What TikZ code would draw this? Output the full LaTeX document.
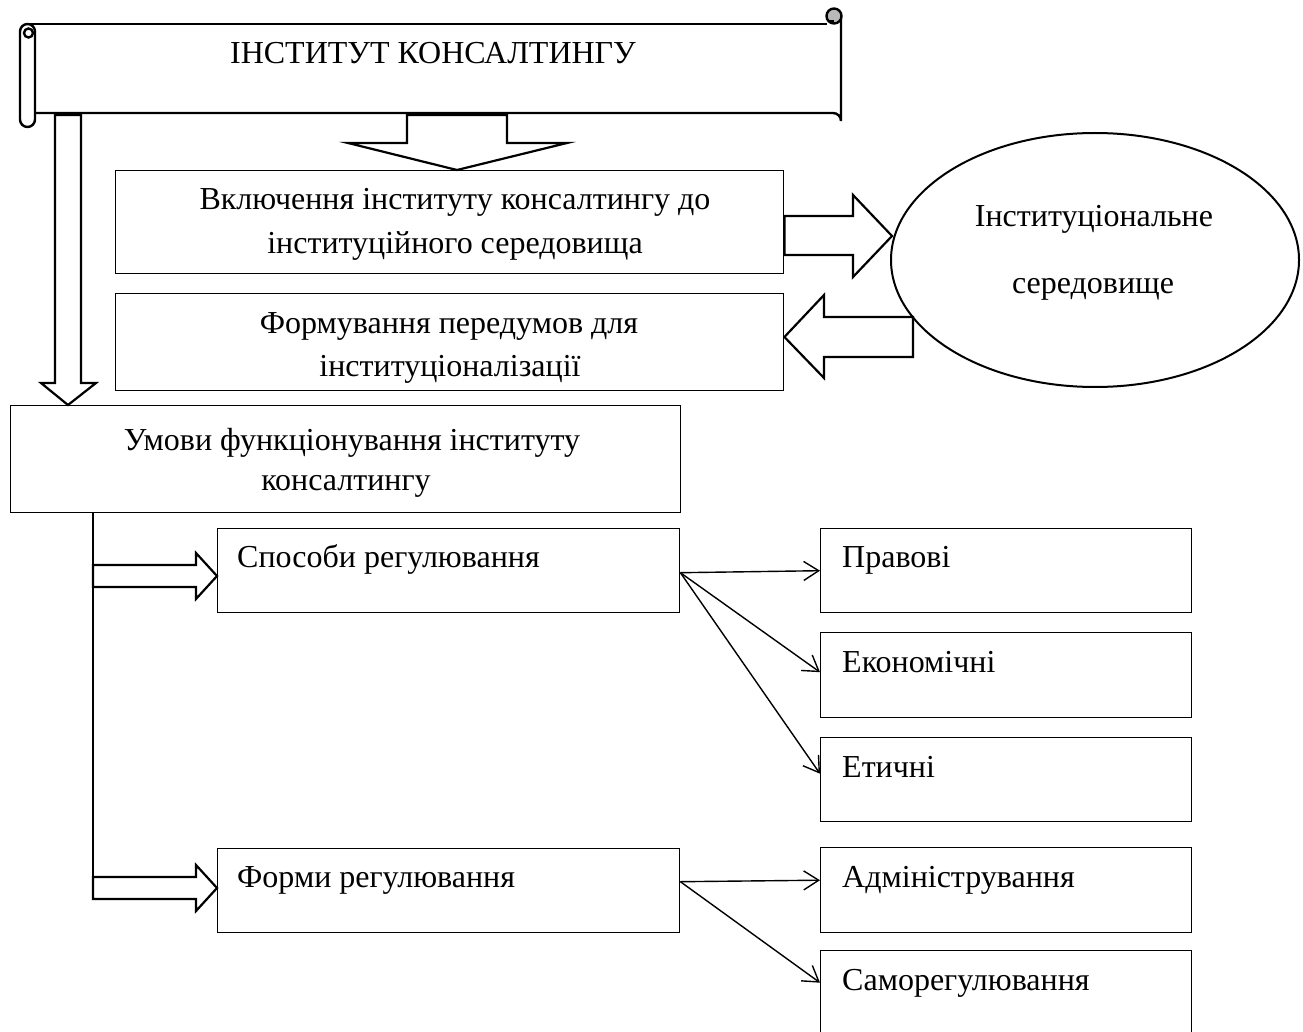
\documentclass[tikz,border=0pt]{standalone}
\usepackage{fontspec}
\setmainfont{Liberation Serif}
\usetikzlibrary{arrows.meta,shapes.geometric,calc}
\begin{document}
\begin{tikzpicture}[x=1pt,y=-1pt,
  box/.style={draw, line width=1.4pt, rectangle, inner sep=0pt, anchor=north west},
  txt/.style={font=\fontsize{32pt}{38pt}\selectfont, inner sep=0pt, anchor=base},
  ltxt/.style={txt, anchor=base west},
  barrow/.style={draw, line width=2.2pt, line join=miter},
  scrollline/.style={line width=2.4pt},
  thinarrow/.style={line width=1.4pt, -{Straight Barb[length=15pt,width=19pt,line width=1.4pt]}},
]
\useasboundingbox (0,0) rectangle (1303,1032);
\clip (0,0) rectangle (1303,1032);

% ---------- scroll ----------
\draw[scrollline, rounded corners=7.5pt] (20,24) rectangle (35,127);
\draw[scrollline] (28.5,33) circle (4.5);
\draw[scrollline] (27.5,24) -- (827,24);
\draw[scrollline] (35,113) -- (833,113) arc[start angle=-90, end angle=0, radius=8] -- (841,16);
\draw[scrollline, fill=gray!55] (834,16) circle (7.5);
\draw[line width=1.6pt] (829,21) -- (834,21);
\node[txt] (title) at (433,64) {ІНСТИТУТ КОНСАЛТИНГУ};

% ---------- boxes ----------
\node[box, minimum width=668pt, minimum height=103pt] (b1) at (115,170) {};
\node[box, minimum width=668pt, minimum height=97pt]  (b2) at (115,293) {};
\node[box, minimum width=670pt, minimum height=107pt] (b3) at (10,405) {};
\node[box, minimum width=462pt, minimum height=84pt]  (s1) at (217,528) {};
\node[box, minimum width=462pt, minimum height=84pt]  (s2) at (217,848) {};
\node[box, minimum width=371pt, minimum height=84pt]  (r1) at (820,528) {};
\node[box, minimum width=371pt, minimum height=85pt]  (r2) at (820,632) {};
\node[box, minimum width=371pt, minimum height=84pt]  (r3) at (820,737) {};
\node[box, minimum width=371pt, minimum height=85pt]  (r4) at (820,847) {};
\node[box, minimum width=371pt, minimum height=100pt] (r5) at (820,950) {};

\node[draw, ellipse, line width=2pt, inner sep=0pt, minimum width=408pt, minimum height=254pt] (env) at (1095,260) {};

% ---------- texts ----------
\node[txt] (t1a) at (455,210) {Включення інституту консалтингу до};
\node[txt] (t1b) at (455,254) {інституційного середовища};
\node[txt] (t2a) at (449,333) {Формування передумов для};
\node[txt] (t2b) at (450,376) {інституціоналізації};
\node[txt] (t3a) at (352,450) {Умови функціонування інституту};
\node[txt] (t3b) at (346,490) {консалтингу};
\node[txt] (te1) at (1094,227) {Інституціональне};
\node[txt] (te2) at (1093,293) {середовище};
\node[ltxt] (ts1) at (237,567) {Способи регулювання};
\node[ltxt] (ts2) at (237,887) {Форми регулювання};
\node[ltxt] (tr1) at (842,567) {Правові};
\node[ltxt] (tr2) at (842,672) {Економічні};
\node[ltxt] (tr3) at (842,777) {Етичні};
\node[ltxt] (tr4) at (842,887) {Адміністрування};
\node[ltxt] (tr5) at (842,990) {Саморегулювання};

% ---------- block arrows ----------
\draw[barrow] (407,115) -- (507,115) -- (507,143) -- (567,143) -- (457,170) -- (348,143) -- (407,143) -- cycle;
\draw[barrow] (55,115) -- (81,115) -- (81,383) -- (96,383) -- (68,405) -- (41,383) -- (55,383) -- cycle;
\draw[barrow] (b1.east |- 0,216) -- (853,216) -- (853,195) -- (892,236) -- (853,277) -- (853,255) -- (b1.east |- 0,255) -- cycle;
\draw[barrow] (913,317) -- (824,317) -- (824,295) -- (b2.east |- 0,337) -- (824,378) -- (824,357) -- (913,357) -- cycle;
\draw[line width=1.5pt] (b3.south -| 93,0) -- (93,899);
\draw[barrow] (93,565) -- (196,565) -- (196,553) -- (s1.west |- 0,576) -- (196,599) -- (196,587) -- (93,587) -- cycle;
\draw[barrow] (93,877) -- (196,877) -- (196,865) -- (s2.west |- 0,888) -- (196,911) -- (196,899) -- (93,899) -- cycle;

% ---------- thin arrows ----------
\draw[thinarrow] ($(s1.east)+(0,2)$) -- (r1.west);
\draw[thinarrow] ($(s1.east)+(0,2)$) -- ($(r2.west)+(0,-3)$);
\draw[thinarrow] ($(s1.east)+(0,2)$) -- ($(r3.west)+(0,-6)$);
\draw[thinarrow] ($(s2.east)+(0,-9)$) -- ($(r4.west)+(0,-10)$);
\draw[thinarrow] ($(s2.east)+(0,-9)$) -- ($(r5.west)+(0,-18)$);
\end{tikzpicture}
\end{document}
